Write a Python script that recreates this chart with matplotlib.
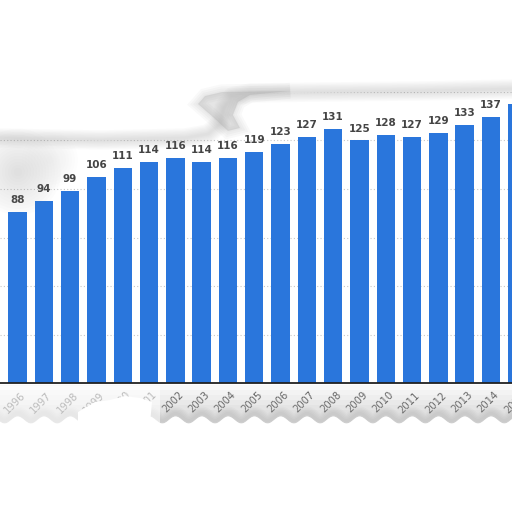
import matplotlib
matplotlib.use("Agg")
import matplotlib.pyplot as plt
import numpy as np

# data (1995 and 2015 are cut by the edges)
years = [str(y) for y in range(1995, 2016)]
values = [84, 88, 94, 99, 106, 111, 114, 116, 114, 116, 119,
          123, 127, 131, 125, 128, 127, 129, 133, 137, 144]
show_label = [False] + [True] * 19 + [False]

BLUE = "#2a76dc"

fig = plt.figure(figsize=(5.12, 5.12), dpi=100)
fig.patch.set_facecolor("white")

# main chart axes, placed in pixel terms
ax = fig.add_axes([0, 1 - 383 / 512, 1, (383 - 92) / 512])
pos = np.arange(len(years))
ax.bar(pos, values, width=0.70, color=BLUE, zorder=3)
ax.set_yticks([25, 50, 75, 100, 125, 150])
ax.yaxis.grid(True, linestyle=(0, (1, 2)), color="#c8c8c8", linewidth=0.8, zorder=0)
ax.tick_params(axis="y", left=False, labelleft=False)
ax.set_xticks([])
for side in ["top", "left", "right"]:
    ax.spines[side].set_visible(False)
ax.spines["bottom"].set_color("#222222")
ax.spines["bottom"].set_linewidth(1.3)
ax.spines["bottom"].set_zorder(4)
ax.set_xlim(0.335, 19.80)
ax.set_ylim(0, 150)

# year labels as annotations so the cut ones at the edges still show
for p, y in zip(pos, years):
    ax.annotate(y, (p, 0), xytext=(2, -5), textcoords="offset points",
                rotation=45, ha="right", va="top", rotation_mode="anchor",
                fontsize=7.2, color="#555555", annotation_clip=False)

for p, v, s in zip(pos, values, show_label):
    if s:
        ax.annotate(str(v), (p, v), xytext=(0, 5), textcoords="offset points",
                    ha="center", va="bottom", fontsize=7.5, fontweight="bold",
                    color="#444444")

# torn paper overlay in pixel coordinates
ov = fig.add_axes([0, 0, 1, 1], zorder=10)
ov.set_xlim(0, 512)
ov.set_ylim(512, 0)
ov.axis("off")
ov.patch.set_alpha(0)

# top tear
top_edge = [(0, 138), (100, 140), (185, 138), (208, 134), (220, 124), (224, 108),
            (232, 97), (250, 93), (320, 92), (420, 91), (512, 89)]
tx, ty = zip(*top_edge)
ov.fill([0] + list(tx) + [512], [0] + list(ty) + [0], color="white", zorder=1)
for lw in range(2, 16, 2):
    ov.plot(tx, ty, color="#808080", alpha=0.035, lw=lw, solid_capstyle="round", zorder=2)

# the fold near the middle
fold = [(198, 104), (205, 96), (222, 92), (290, 91), (250, 95), (238, 102),
        (233, 115), (240, 128), (228, 131), (214, 118)]
fx, fy = zip(*fold)
ov.fill(fx, fy, color="#9a9a9a", alpha=0.25, lw=0, zorder=2)
for lw in range(2, 12, 3):
    ov.fill(fx, fy, facecolor="none", edgecolor="#9a9a9a", alpha=0.06, lw=lw, zorder=2)

# soft haze at the left
for r in np.arange(4, 44, 3):
    ov.add_patch(plt.Circle((18, 172), r, color="#909090", alpha=0.018, lw=0, zorder=2))
for r in np.arange(4, 30, 3):
    ov.add_patch(plt.Circle((50, 160), r, color="#a0a0a0", alpha=0.012, lw=0, zorder=2))

# bottom tear with a scalloped edge under each year label
bx = np.linspace(0, 512, 400)
by = 420 + 3.5 * np.cos(2 * np.pi * (bx - 478) / 26.3)
for k in range(6):
    ov.fill_between(bx, 385 + k * 5, by, color="#b0b0b0", alpha=0.07, lw=0, zorder=2)
for lw in range(2, 12, 2):
    ov.plot(bx, by - 3, color="#707070", alpha=0.04, lw=lw, zorder=2)
ov.fill_between(bx, by, 512, color="white", lw=0, zorder=3)

# washed out labels at the left
ov.fill([0, 160, 160, 0], [386, 386, 424, 424], color="white", alpha=0.55, lw=0, zorder=3)
ov.fill([78, 95, 110, 125, 140, 152, 150, 78],
        [412, 402, 400, 396, 398, 402, 424, 424], color="white", lw=0, zorder=3)

fig.savefig("out.png", dpi=100)
